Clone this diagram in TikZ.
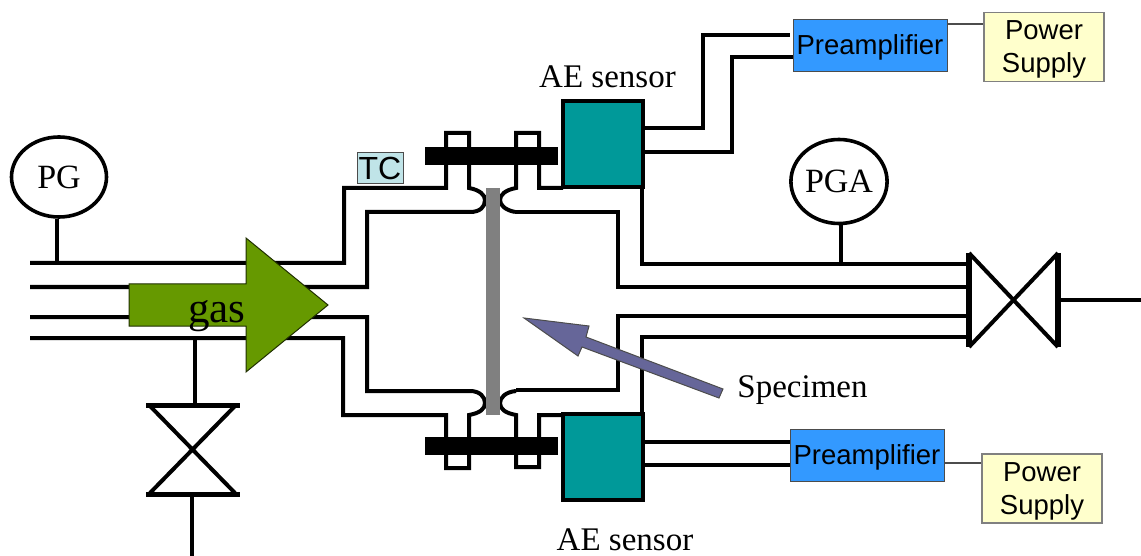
\documentclass[tikz,border=0pt]{standalone}
\usepackage{fontspec}
\setmainfont{Liberation Serif}
\setsansfont{Liberation Sans}
\usetikzlibrary{shapes.geometric}
\definecolor{sensorteal}{HTML}{009999}
\definecolor{ampblue}{HTML}{3399FF}
\definecolor{psuyellow}{HTML}{FFFFCC}
\definecolor{gasgreen}{HTML}{669900}
\definecolor{specblue}{HTML}{666699}
\definecolor{tcblue}{HTML}{C0E4E8}

\begin{document}
\begin{tikzpicture}[x=1pt, y=-1pt,
    pipe/.style={line width=4pt, line join=miter},
    wire/.style={line width=3.6pt},
    gauge/.style={ellipse, draw, line width=3.6pt, fill=white, inner sep=0pt, font=\fontsize{34}{36}\selectfont},
    sensor/.style={rectangle, draw, line width=4pt, fill=sensorteal, minimum width=80pt, minimum height=86pt, inner sep=0pt},
    clamp/.style={rectangle, fill=black, minimum width=133pt, minimum height=18pt, inner sep=0pt},
    amp/.style={rectangle, draw=black!70, fill=ampblue, minimum width=154pt, minimum height=52pt, inner sep=0pt,
                font=\sffamily\fontsize{27.5}{30}\selectfont, execute at begin node={\rule{0pt}{24pt}}},
    psu/.style={rectangle, draw=black!50, line width=1.2pt, fill=psuyellow, minimum width=120pt, minimum height=69pt, inner sep=0pt,
                font=\sffamily\fontsize{27.5}{33}\selectfont},
    psutext/.style={align=center, inner sep=0pt, font=\sffamily\fontsize{27.5}{33}\selectfont},
    caption/.style={font=\fontsize{33}{36}\selectfont},
]
    \useasboundingbox (0,0) rectangle (1141,556);

    % Gas lines, left side and upper half
    \draw[pipe] (30,263) -- (344,263) -- (344,188) -- (446,188) -- (446,133) -- (469,133) -- (469,188)
        .. controls (480,190) and (485,195) .. (485,200) .. controls (485,207) and (480,212) .. (470,212)
        -- (367,212) -- (367,287) -- (30,287);
    \draw[pipe] (515,212) .. controls (505,210) and (500,205) .. (500,200) .. controls (500,195) and (505,190) .. (516,188)
        -- (516,133) -- (539,133) -- (539,188) -- (563,188);
    \draw[pipe] (515,212) -- (618,212) -- (618,287) -- (968,287);

    % Lower half
    \draw[pipe] (30,317) -- (367,317) -- (367,391) -- (470,391)
        .. controls (480,391) and (485,397) .. (485,403) .. controls (485,409) and (480,413) .. (469,415)
        -- (469,468) -- (446,468) -- (446,415) -- (343,415) -- (343,338) -- (30,338);
    \draw[pipe] (516,391) .. controls (505,392) and (500,398) .. (500,403) .. controls (500,409) and (505,413) .. (516,415)
        -- (516,467) -- (539,467) -- (539,415) -- (563,415);
    \draw[pipe] (516,390) -- (618,390) -- (618,316) -- (968,316);

    % Sensors and clamps
    \node[clamp] (clampT) at (491.5,156) {};
    \node[clamp] (clampB) at (491.5,446) {};
    \node[sensor] (aeT) at (603,144) {};
    \node[sensor] (aeB) at (603,457) {};
    \draw[pipe] (642,187) -- (642,264) -- (968,264);
    \draw[pipe] (642,414) -- (642,337) -- (968,337);
    \fill[black!50] (486,188) rectangle (500,415);
    \node[caption] at (607.5,77) {AE sensor};
    \node[caption] at (625,540) {AE sensor};

    % Gauges
    \node[gauge, minimum width=95pt, minimum height=80pt] (pg) at (59,177) {PG};
    \node[gauge, minimum width=92pt, minimum height=84pt] (pga) at (839,181.5) {PGA};
    \draw[wire] (pg.south) ++(-2,0) -- (57,263);
    \draw[wire] (pga.south) ++(2,0) -- (841,264);

    % Valves
    \draw[line width=4pt] (195,338) -- (195,405);
    \draw[line width=5pt] (146,405) -- (240,405) (146,494) -- (240,494);
    \draw[line width=4pt] (150,406) -- (235,493) (235,406) -- (150,493);
    \draw[line width=4pt] (192,494) -- (192,556);
    \draw[line width=6pt] (969,253) -- (969,347);
    \draw[line width=6pt] (1058,253) -- (1058,347);
    \draw[line width=4pt] (969,253) -- (1058,347) (1058,253) -- (969,347);
    \draw[line width=3.6pt] (1060,300) -- (1141,300);

    % Gas arrow
    \draw[draw=black!70!gasgreen, fill=gasgreen, line width=1pt]
        (129,284) -- (246,284) -- (246,238) -- (328,305) -- (246,372) -- (246,326) -- (129,326) -- cycle;
    \node[font=\fontsize{43}{45}\selectfont, anchor=base] (gas) at (217,322) {gas};

    % TC tag
    \node[rectangle, draw=black!70, fill=tcblue, minimum width=46pt, minimum height=31pt, inner sep=0pt,
          font=\sffamily\fontsize{32}{34}\selectfont] (tc) at (380,168) {TC};

    % Specimen pointer
    \draw[draw=black!70, fill=specblue, line width=1pt]
        (723,389) -- (586,337) -- (589,326) -- (524,318) -- (578,356) -- (582,347) -- (719,398) -- cycle;
    \node[caption] (spec) at (802.5,390) {Specimen};

    % Preamps and supplies
    \node[amp] (ampT) at (870,45) {Preamplifier};
    \node[amp] (ampB) at (867,455) {Preamplifier};
    \node[psu] (psuT) at (1044,47) {};
    \node[psu] (psuB) at (1042,488.5) {};
    \node[psutext] at ([yshift=-2.5pt]psuT.center) {Power\\Supply};
    \node[psutext] at ([yshift=-2.5pt]psuB.center) {Power\\Supply};
    \coordinate (tapT) at (947,24);
    \coordinate (tapB) at (944,463);
    \draw[line width=1.4pt, black!70] (tapT) -- (tapT -| psuT.west);
    \draw[line width=1.4pt, black!70] (tapB) -- (tapB -| psuB.west);
    \draw[wire] (aeT.east |- 0,128) -- (703,128) -- (703,35) -- (790,35);
    \draw[wire] (aeT.east |- 0,152) -- (732,152) -- (732,57) -- (ampT.west |- 0,57);
    \draw[wire] (aeB.east |- 0,442) -- (ampB.west |- 0,442);
    \draw[wire] (aeB.east |- 0,465) -- (ampB.west |- 0,465);
\end{tikzpicture}
\end{document}
